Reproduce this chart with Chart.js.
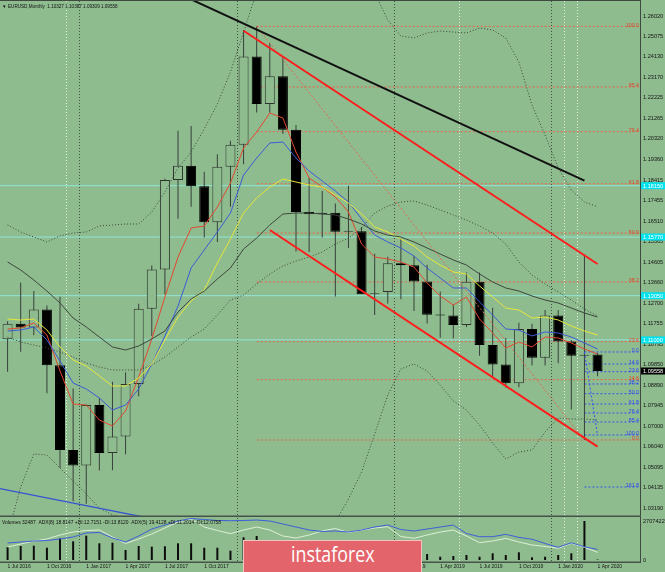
<!DOCTYPE html>
<html>
<head>
<meta charset="utf-8">
<title>EURUSD Monthly</title>
<script src="https://cdn.jsdelivr.net/npm/chart.js@4.4.1/dist/chart.umd.min.js"></script>
<style>
  html, body { margin: 0; padding: 0; background: #8fbc8f; }
  #wrap { position: relative; width: 665px; height: 572px; overflow: hidden; background: #8fbc8f; }
  #priceChart { position: absolute; left: 0; top: 0; }
  #volChart { position: absolute; left: 0; top: 517px; }
  #logo { position: absolute; left: 243px; top: 540px; width: 179px; height: 34px; box-sizing: border-box;
          background: #e3646b; border: 1px solid #f3c3c3; overflow: hidden; }
  #logo span { position: absolute; left: 47px; top: 1px; color: #fff; font: 22px "Open Sans", sans-serif;
          line-height: 22px; transform: scaleX(0.81); transform-origin: 0 0; white-space: nowrap; }
</style>
</head>
<body>
<div id="wrap">
  <canvas id="priceChart" width="665" height="517"></canvas>
  <canvas id="volChart" width="665" height="55"></canvas>
  <div id="logo"><span>instaforex</span></div>
</div>
<script>
//months on the x axis, one candle each
var months = ['Jul 2016', 'Aug 2016', 'Sep 2016', 'Oct 2016', 'Nov 2016', 'Dec 2016',
    'Jan 2017', 'Feb 2017', 'Mar 2017', 'Apr 2017', 'May 2017', 'Jun 2017',
    'Jul 2017', 'Aug 2017', 'Sep 2017', 'Oct 2017', 'Nov 2017', 'Dec 2017',
    'Jan 2018', 'Feb 2018', 'Mar 2018', 'Apr 2018', 'May 2018', 'Jun 2018',
    'Jul 2018', 'Aug 2018', 'Sep 2018', 'Oct 2018', 'Nov 2018', 'Dec 2018',
    'Jan 2019', 'Feb 2019', 'Mar 2019', 'Apr 2019', 'May 2019', 'Jun 2019',
    'Jul 2019', 'Aug 2019', 'Sep 2019', 'Oct 2019', 'Nov 2019', 'Dec 2019',
    'Jan 2020', 'Feb 2020', 'Mar 2020', 'Apr 2020'];
//monthly OHLC
var openP = [1.1103, 1.1175, 1.1157, 1.1241, 1.0982, 1.0589,
    1.0517, 1.0798, 1.0575, 1.0652, 1.0895, 1.1244, 1.1426, 1.1842, 1.1908, 1.1813, 1.1645, 1.1903,
    1.2005, 1.2414, 1.2194, 1.2323, 1.2075, 1.1693, 1.1683, 1.1690, 1.1601, 1.1604, 1.1312, 1.1322,
    1.1455, 1.1446, 1.1371, 1.1217, 1.1213, 1.1169, 1.1370, 1.1076, 1.0986, 1.0899, 1.1151, 1.1017,
    1.1213, 1.1093, 1.1027, 1.10327];
var highP = [1.1186, 1.1366, 1.1327, 1.1259, 1.1300, 1.0874,
    1.0800, 1.0829, 1.0906, 1.0950, 1.1268, 1.1445, 1.1847, 1.2070, 1.2092, 1.1880, 1.1961, 1.2023,
    1.2537, 1.2555, 1.2476, 1.2414, 1.2097, 1.1852, 1.1791, 1.1733, 1.1815, 1.1624, 1.1500, 1.1486,
    1.1570, 1.1489, 1.1448, 1.1324, 1.1264, 1.1412, 1.1412, 1.1249, 1.1109, 1.1179, 1.1175, 1.1239,
    1.1239, 1.1100, 1.1495, 1.10387];
var lowP = [1.0952, 1.1045, 1.1122, 1.0852, 1.0506, 1.0352,
    1.0340, 1.0494, 1.0495, 1.0570, 1.0839, 1.1118, 1.1312, 1.1662, 1.1717, 1.1575, 1.1554, 1.1717,
    1.1915, 1.2154, 1.2155, 1.2055, 1.1510, 1.1508, 1.1575, 1.1301, 1.1526, 1.1335, 1.1215, 1.1269,
    1.1289, 1.1234, 1.1176, 1.1110, 1.1107, 1.1160, 1.1027, 1.0926, 1.0879, 1.0880, 1.0981, 1.0981,
    1.0992, 1.0777, 1.0636, 1.09309];
var closeP = [1.1175, 1.1157, 1.1241, 1.0982, 1.0589, 1.0517,
    1.0798, 1.0575, 1.0652, 1.0895, 1.1244, 1.1426, 1.1842, 1.1908, 1.1813, 1.1645, 1.1903, 1.2005,
    1.2414, 1.2194, 1.2323, 1.2075, 1.1693, 1.1683, 1.1690, 1.1601, 1.1604, 1.1312, 1.1316, 1.1455,
    1.1446, 1.1371, 1.1217, 1.1213, 1.1169, 1.1370, 1.1076, 1.0986, 1.0899, 1.1151, 1.1017, 1.1213,
    1.1093, 1.1027, 1.1031, 1.09558];
//moving averages
var maRed = [1.11505, 1.11552, 1.11783, 1.11227, 1.09558, 1.08027, 1.07981, 1.07285, 1.07007, 1.07703,
    1.09279, 1.11042, 1.12989, 1.14844, 1.16189, 1.16282, 1.17163, 1.18276, 1.19899, 1.20641,
    1.21522, 1.21290, 1.19713, 1.18508, 1.18090, 1.17626, 1.16931, 1.15447, 1.14844, 1.14751,
    1.14612, 1.14380, 1.13638, 1.13036, 1.12618, 1.12989, 1.11969, 1.11320, 1.10624, 1.10902,
    1.10671, 1.11134, 1.11088, 1.10856, 1.10578, 1.10346];
var maBlue = [1.11413, 1.11459, 1.11598, 1.10995, 1.10021, 1.09001, 1.08723, 1.08306, 1.07749, 1.07981,
    1.08723, 1.09882, 1.11181, 1.12572, 1.14334, 1.15169, 1.16003, 1.16885, 1.18647, 1.19435,
    1.20131, 1.20177, 1.19435, 1.18832, 1.18368, 1.17905, 1.17395, 1.16606, 1.15864, 1.15540,
    1.15261, 1.14890, 1.14334, 1.13870, 1.13407, 1.13407, 1.12757, 1.12154, 1.11505, 1.11459,
    1.11181, 1.11366, 1.11320, 1.11134, 1.10856, 1.10578];
var maYellow = [1.11969, 1.11923, 1.11969, 1.11459, 1.10671, 1.10068, 1.09789, 1.09326, 1.08862, 1.08862,
    1.09233, 1.09882, 1.10995, 1.12062, 1.12804, 1.13314, 1.14566, 1.15679, 1.16885, 1.17580,
    1.18090, 1.18461, 1.18322, 1.18183, 1.18090, 1.17719, 1.17348, 1.16838, 1.16235, 1.16003,
    1.15679, 1.15354, 1.14844, 1.14473, 1.14149, 1.14056, 1.13499, 1.12989, 1.12479, 1.12386,
    1.12015, 1.12062, 1.11923, 1.11644, 1.11413, 1.11227];
var maGray = [1.14612, 1.14241, 1.13778, 1.13267, 1.12711, 1.12015, 1.11598, 1.11134, 1.10671, 1.10531,
    1.10717, 1.11042, 1.11413, 1.12294, 1.12896, 1.13267, 1.13824, 1.14334, 1.15215, 1.15725,
    1.16328, 1.16838, 1.16885, 1.16885, 1.16838, 1.16792, 1.16606, 1.16374, 1.16050, 1.15864,
    1.15772, 1.15540, 1.15261, 1.14983, 1.14705, 1.14473, 1.14056, 1.13685, 1.13407, 1.13267,
    1.13036, 1.12850, 1.12711, 1.12479, 1.12247, 1.12062];
//bollinger bands (dotted)
var bbUpper = [1.16328, 1.16003, 1.15772, 1.15540, 1.15818, 1.15957, 1.16003, 1.16282, 1.16328, 1.16374,
    1.16374, 1.16931, 1.17858, 1.18971, 1.19713, 1.20780, 1.21939, 1.23423, 1.25278, 1.27133,
    1.27782, 1.28060, 1.28153, 1.28153, 1.28153, 1.28153, 1.27829, 1.27504, 1.27087, 1.25835,
    1.25093, 1.25000, 1.25232, 1.25324, 1.25278, 1.25232, 1.25464, 1.25371, 1.25000, 1.23887,
    1.21893, 1.20502, 1.18971, 1.17951, 1.17395, 1.17177];
var bbMiddle = [1.11134, 1.10902, 1.10763, 1.10624, 1.10439, 1.10207, 1.09929, 1.09743, 1.09604, 1.09604,
    1.09604, 1.09836, 1.10207, 1.10671, 1.11134, 1.11505, 1.12154, 1.12850, 1.13082, 1.13592,
    1.14056, 1.14427, 1.14659, 1.14844, 1.15076, 1.15447, 1.15725, 1.16189, 1.16885, 1.17209,
    1.17395, 1.17441, 1.17255, 1.17024, 1.16792, 1.16560, 1.16282, 1.15957, 1.15447, 1.14612,
    1.14009, 1.13592, 1.13221, 1.12850, 1.12433, 1.12108];
var bbLower = [1.01952, 1.04178, 1.05709, 1.05662, 1.05059, 1.04457, 1.03854, 1.03204, 1.02880, 1.02741,
    1.02741, 1.02694, 1.02555, 1.02370, 1.02509, 1.02231, 1.02323, 1.02277, 1.00886, 1.00097,
    0.99866, 1.00097, 1.00561, 1.01025, 1.01721, 1.02555, 1.03622, 1.04874, 1.06636, 1.08445,
    1.09650, 1.09882, 1.09558, 1.08908, 1.08166, 1.07749, 1.07053, 1.06219, 1.05477, 1.05801,
    1.05894, 1.06729, 1.07378, 1.07332, 1.07332, 1.07285];
//lower window: tick volumes and two ADX lines
var volumes = [900000, 972000, 993000, 854000, 1506000, 1298000, 1687000, 1159000, 1201000, 694000,
    972000, 923000, 951000, 1159000, 1159000, 854000, 854000, 646000, 1576000, 1666000,
    1100000, 900000, 1000000, 750000, 800000, 700000, 600000, 650000, 700000, 550000,
    600000, 500000, 417000, 229000, 278000, 347000, 229000, 465000, 347000, 535000,
    187000, 229000, 347000, 465000, 2707422, 32487];
var adxBlue = [19, 20, 21, 21.5, 23, 25, 29, 29.5, 24, 20, 26, 33, 37, 41, 43.5, 42.5, 41.5, 41.3, 41.5, 42,
    41, 38, 35, 32, 30.5, 31, 30, 32, 35, 37, 32.5, 31, 33, 35, 37, 28.5, 25.3, 25.3, 27.7, 24.6,
    22.8, 18.5, 14.7, 19.2, 15.2, 12.6];
var adxLight = [15, 18, 21, 23, 27, 30, 31.5, 32, 25, 18.5, 23, 28, 34, 40, 43, 35, 31.5, 28.3, 32, 35,
    32, 26, 24, 27, 31, 33.5, 29.5, 32, 34, 35.3, 25.5, 23.7, 27, 30, 32, 26, 19.3, 21, 23.6, 20,
    17, 15.5, 13.7, 18.7, 14.7, 9.7];
var adxText = 'ADX(8) 18.8147 +DI:12.7151 -DI:13.8120  ADX(5) 19.4128 +DI:11.2014 -DI:12.0758';
//price axis labels
var priceTicks = [1.26020, 1.25075, 1.24130, 1.23170, 1.22225, 1.21265, 1.20320, 1.19360, 1.18415,
    1.17455, 1.16510, 1.15565, 1.14605, 1.13660, 1.12700, 1.11755, 1.10795, 1.09850, 1.08890,
    1.07945, 1.07000, 1.06040, 1.05095, 1.04135, 1.03190];
var volumeTicks = [0, 2707422];
//fibonacci levels
var fibRedLabels = ['100.0', '85.4', '76.4', '61.8', '50.0', '38.2', '23.6', '14.6', '0.0'];
var fibRedPrices = [1.25540, 1.22730, 1.20655, 1.18240, 1.15957, 1.13685, 1.10920, 1.09154, 1.06358];
var fibRedStart = 19;
var fibBlueLabels = ['0.0', '14.6', '23.6', '38.2', '50.0', '61.8', '76.4', '85.4', '100.0', '161.8'];
var fibBluePrices = [1.10439, 1.09882, 1.09525, 1.08955, 1.08505, 1.08027, 1.07610, 1.07193, 1.06590, 1.04178];
var fibBlueStart = 44;
//horizontal support/resistance lines
var cyanLevels = [1.18150, 1.15770, 1.13050, 1.11000];
//trend lines [month index, price]
var trendBlack = [[14, 1.26790], [44, 1.18382]];
var trendBlue = [[-1, 1.04155], [12, 1.02590]];
var channelUpper = [[18, 1.25338], [45, 1.14520]];
var channelLower = [[20, 1.16096], [45, 1.06047]];
var fibRedTrend = [[19, 1.25540], [44, 1.06358]];
var fibBlueTrend = [[44, 1.10439], [45, 1.06590]];
//vertical separators
var yearSeparators = [6, 18, 30, 42];
var otherSeparators = [5, 35, 43, 44];

var BG = '#8fbc8f';
var FONT = '"Liberation Sans", Arial, sans-serif';
var xMin = -0.07, xMax = 47.73;
Chart.defaults.animation = false;
Chart.defaults.events = [];

function series(arr) {
    return arr.map(function (v, i) { return { x: i, y: v }; });
}
function segment(pts) {
    return pts.map(function (p) { return { x: p[0], y: p[1] }; });
}
function level(start, price) {
    return [{ x: start, y: price }, { x: months.length + 3, y: price }];
}
function lineSet(data, color, width, dash, order, axis) {
    return {
        type: 'line', data: data, borderColor: color, borderWidth: width, borderDash: dash || [],
        pointRadius: 0, fill: false, tension: 0, order: order, clip: 0, yAxisID: axis || 'y'
    };
}
function sepColor(ctx) {
    var v = ctx.tick ? ctx.tick.value : -1;
    if (yearSeparators.indexOf(v) >= 0) return 'rgba(58,70,58,0.9)';
    if (otherSeparators.indexOf(v) >= 0) return 'rgba(236,246,236,0.9)';
    return 'rgba(0,0,0,0)';
}
function allMonthTicks(scale) {
    var t = [];
    for (var i = 0; i <= 47; i++) t.push({ value: i });
    scale.ticks = t;
}

//borders round the plot
var framePlugin = {
    id: 'frame',
    afterDraw: function (chart, args, opts) {
        var a = chart.chartArea, ctx = chart.ctx;
        ctx.save();
        ctx.strokeStyle = '#3f4a3f';
        ctx.lineWidth = 1;
        ctx.beginPath();
        ctx.moveTo(a.right + 0.5, 0);
        ctx.lineTo(a.right + 0.5, a.bottom);
        if (opts.top) {
            ctx.moveTo(0, a.top - 0.5);
            ctx.lineTo(a.right, a.top - 0.5);
        }
        ctx.stroke();
        ctx.strokeStyle = '#47524a';
        ctx.lineWidth = opts.bottomWidth;
        ctx.beginPath();
        ctx.moveTo(0, a.bottom + opts.bottomWidth / 2 - 0.5);
        ctx.lineTo(a.right + 1, a.bottom + opts.bottomWidth / 2 - 0.5);
        ctx.stroke();
        ctx.restore();
    }
};

function axisBox(ctx, a, w, y, bg, fg, text) {
    ctx.fillStyle = bg;
    ctx.fillRect(a.right + 1, y - 3.5, w - a.right - 1, 7);
    ctx.fillStyle = fg;
    ctx.textAlign = 'left';
    ctx.textBaseline = 'middle';
    ctx.fillText(text, a.right + 3, y + 0.3);
}

//level labels, header and axis markers on the price window
var priceText = {
    id: 'priceText',
    afterDraw: function (chart) {
        var ctx = chart.ctx, a = chart.chartArea, ys = chart.scales.y;
        var last = months.length - 1;
        ctx.save();
        ctx.font = '5.3px ' + FONT;
        ctx.textAlign = 'right';
        ctx.textBaseline = 'alphabetic';
        ctx.fillStyle = '#e2422c';
        fibRedLabels.forEach(function (t, k) {
            ctx.fillText(t, a.right - 1, ys.getPixelForValue(fibRedPrices[k]) + 0.5);
        });
        ctx.fillStyle = '#2b45f5';
        fibBlueLabels.forEach(function (t, k) {
            ctx.fillText(t, a.right - 1, ys.getPixelForValue(fibBluePrices[k]) + 0.5);
        });
        ctx.textAlign = 'left';
        ctx.textBaseline = 'middle';
        ctx.fillStyle = '#111';
        ctx.font = '4.6px ' + FONT;
        ctx.fillText('\u25BC', 2, 6.5);
        ctx.fillText('EURUSD,Monthly  ' + [openP[last], highP[last], lowP[last], closeP[last]]
            .map(function (v) { return v.toFixed(5); }).join(' '), 8, 6.5);
        ctx.font = '5.6px ' + FONT;
        cyanLevels.forEach(function (p) {
            axisBox(ctx, a, chart.width, ys.getPixelForValue(p), '#00e2ee', '#fff', p.toFixed(5));
        });
        axisBox(ctx, a, chart.width, ys.getPixelForValue(closeP[last]), '#000', '#fff', closeP[last].toFixed(5));
        ctx.restore();
    }
};

var volText = {
    id: 'volText',
    afterDraw: function (chart) {
        var ctx = chart.ctx;
        ctx.save();
        ctx.font = '4.9px ' + FONT;
        ctx.fillStyle = '#111';
        ctx.textAlign = 'left';
        ctx.textBaseline = 'middle';
        ctx.fillText('Volumes ' + volumes[volumes.length - 1] + '  ' + adxText, 2, 5.5);
        ctx.restore();
    }
};

//price window datasets
var mainSets = [];
cyanLevels.forEach(function (p) {
    mainSets.push(lineSet(level(-1, p), '#8fe6d8', 1, [], 20));
});
fibRedPrices.forEach(function (p) {
    mainSets.push(lineSet(level(fibRedStart, p), '#e2644e', 1, [2, 2], 19));
});
fibBluePrices.forEach(function (p) {
    mainSets.push(lineSet(level(fibBlueStart, p), '#3452f0', 1, [2, 2], 19));
});
mainSets.push({
    type: 'bar', order: 12, grouped: false, barThickness: 1, inflateAmount: 0,
    data: months.map(function (m, i) { return { x: i, y: [lowP[i], highP[i]] }; }),
    backgroundColor: '#36403a', borderWidth: 0
});
mainSets.push({
    type: 'bar', order: 11, grouped: false, barThickness: 10, inflateAmount: 0, minBarLength: 1,
    borderSkipped: false, borderWidth: 1,
    data: months.map(function (m, i) { return { x: i, y: [openP[i], closeP[i]] }; }),
    backgroundColor: months.map(function (m, i) { return closeP[i] >= openP[i] ? BG : '#000'; }),
    borderColor: months.map(function (m, i) { return closeP[i] >= openP[i] ? '#2e352e' : '#000'; })
});
mainSets.push(lineSet(series(bbUpper), '#3a463a', 1, [1, 2], 6));
mainSets.push(lineSet(series(bbMiddle), '#3a463a', 1, [1, 2], 6));
mainSets.push(lineSet(series(bbLower), '#3a463a', 1, [1, 2], 6));
mainSets.push(lineSet(series(maGray), '#3d473d', 1, [], 5));
mainSets.push(lineSet(series(maYellow), '#e6e63a', 1, [], 5));
mainSets.push(lineSet(series(maBlue), '#3b5bd6', 1, [], 5));
mainSets.push(lineSet(series(maRed), '#e4472f', 1, [], 5));
mainSets.push(lineSet(segment(fibRedTrend), '#e2644e', 1, [2, 2], 4));
mainSets.push(lineSet(segment(fibBlueTrend), '#3452f0', 1, [2, 2], 4));
mainSets.push(lineSet(segment(trendBlue), '#3552d2', 1.3, [], 3));
mainSets.push(lineSet(segment(trendBlack), '#111', 2, [], 3));
mainSets.push(lineSet(segment(channelUpper), '#ff1c1c', 2, [], 2));
mainSets.push(lineSet(segment(channelLower), '#ff1c1c', 2, [], 2));

new Chart(document.getElementById('priceChart'), {
    type: 'bar',
    data: { datasets: mainSets },
    plugins: [framePlugin, priceText],
    options: {
        responsive: false,
        layout: { padding: { top: 1, bottom: 1, left: 0, right: 0 } },
        plugins: { legend: { display: false }, tooltip: { enabled: false }, frame: { top: true, bottomWidth: 2 } },
        scales: {
            x: {
                type: 'linear', min: xMin, max: xMax,
                afterBuildTicks: allMonthTicks,
                ticks: { display: false },
                grid: { display: true, drawTicks: false, color: sepColor, lineWidth: 1 },
                border: { display: false, dash: [1, 2] },
                afterFit: function (s) { s.height = 0; s.paddingLeft = 0; s.paddingRight = 0; }
            },
            y: {
                type: 'linear', position: 'right', min: 1.02833, max: 1.26716,
                afterBuildTicks: function (s) { s.ticks = priceTicks.map(function (v) { return { value: v }; }); },
                ticks: {
                    autoSkip: false, padding: 3, color: '#141414', font: { family: FONT, size: 5.6 },
                    callback: function (v) { return v.toFixed(5); }
                },
                grid: { display: false, drawTicks: false, tickLength: 0 },
                border: { display: false },
                afterFit: function (s) { s.width = 25; s.paddingTop = 0; s.paddingBottom = 0; }
            }
        }
    }
});

//volume window
new Chart(document.getElementById('volChart'), {
    type: 'bar',
    data: {
        datasets: [
            {
                type: 'bar', order: 5, barThickness: 2, inflateAmount: 0, yAxisID: 'y',
                data: series(volumes), backgroundColor: '#0c0c0c', borderWidth: 0
            },
            lineSet(series(adxLight), '#dcefd6', 1, [], 3, 'yAdx'),
            lineSet(series(adxBlue), '#3f5fd8', 1, [], 2, 'yAdx')
        ]
    },
    plugins: [framePlugin, volText],
    options: {
        responsive: false,
        layout: { padding: { top: 1, bottom: 0, left: 0, right: 0 } },
        plugins: { legend: { display: false }, tooltip: { enabled: false }, frame: { top: false, bottomWidth: 1.5 } },
        scales: {
            x: {
                type: 'linear', min: xMin, max: xMax,
                afterBuildTicks: allMonthTicks,
                ticks: {
                    autoSkip: false, maxRotation: 0, align: 'start', padding: 2,
                    color: '#141414', font: { family: FONT, size: 5 },
                    callback: function (v) { return (v % 3 === 0 && v < months.length) ? '1 ' + months[v] : ''; }
                },
                grid: { display: true, drawTicks: false, color: sepColor, lineWidth: 1 },
                border: { display: false, dash: [1, 2] },
                afterFit: function (s) { s.height = 10; s.paddingLeft = 0; s.paddingRight = 0; }
            },
            y: {
                type: 'linear', position: 'right', min: -138842, max: 2915685,
                afterBuildTicks: function (s) { s.ticks = volumeTicks.map(function (v) { return { value: v }; }); },
                ticks: {
                    autoSkip: false, padding: 3, color: '#141414', font: { family: FONT, size: 5.6 },
                    callback: function (v) { return String(v); }
                },
                grid: { display: false, drawTicks: false, tickLength: 0 },
                border: { display: false },
                afterFit: function (s) { s.width = 25; s.paddingTop = 0; s.paddingBottom = 0; }
            },
            yAdx: { type: 'linear', display: false, min: 0, max: 44 }
        }
    }
});
</script>
</body>
</html>
